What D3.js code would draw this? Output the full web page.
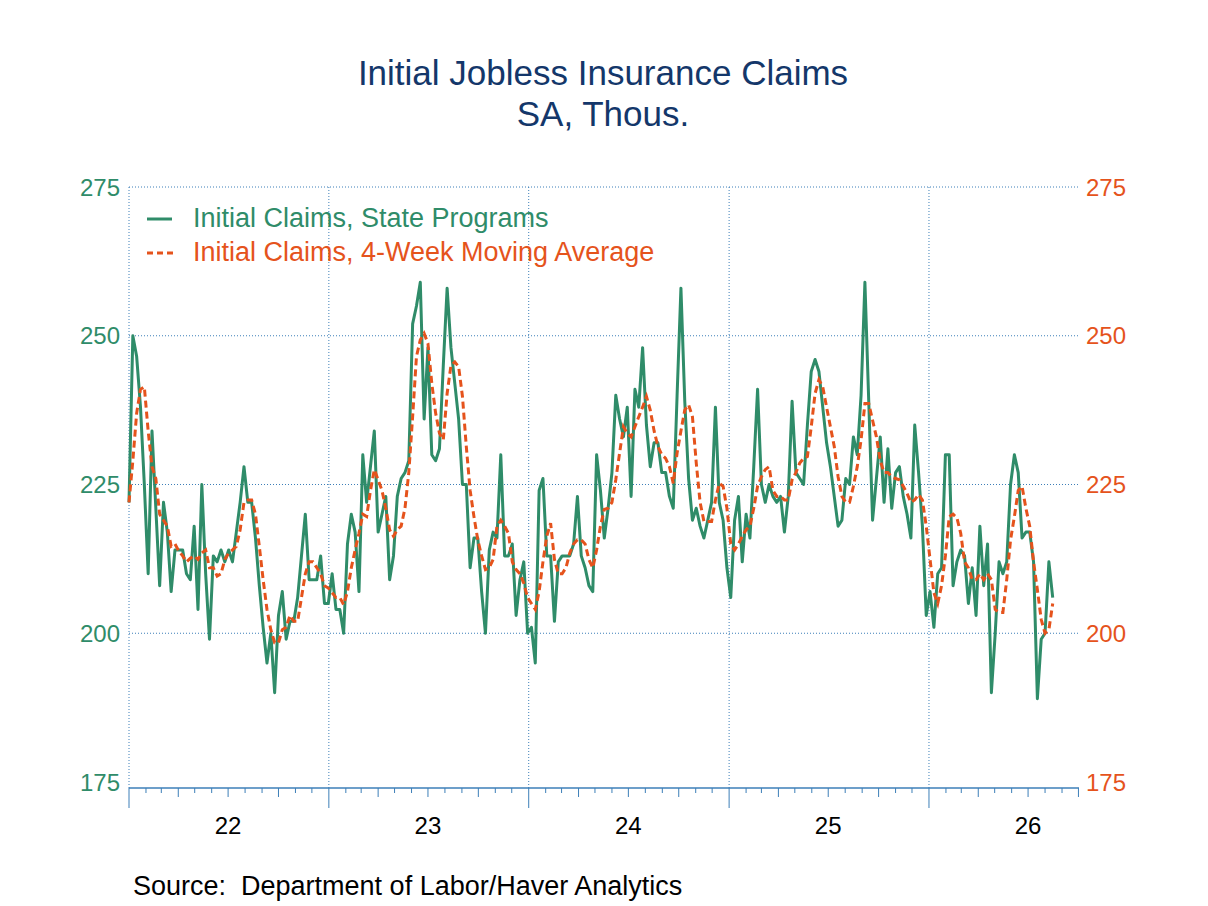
<!DOCTYPE html>
<html>
<head>
<meta charset="utf-8">
<script src="https://cdn.jsdelivr.net/npm/d3@7"></script>
<style>
  body { margin: 0; background: #fff; }
  text { font-family: "Liberation Sans", Arial, sans-serif; white-space: pre; }
</style>
</head>
<body>
<svg id="chart" width="1208" height="906"></svg>
<script>
// weekly values, week ending Jan 1 2022 onward (thousands)
var claims = [
  222, 250, 246.5, 238, 225, 210, 234, 221, 208, 222,
  217, 207, 214, 214, 214, 210, 209, 218, 204, 225,
  210, 199, 213, 212, 214, 212, 214, 212, 217, 222,
  228, 222, 222, 216, 208, 201, 195, 200, 190, 203,
  207, 199, 202, 202, 206, 213, 220, 209, 209, 209,
  213, 205, 205, 210, 204, 204, 200, 215, 220, 217,
  207, 230, 222, 228, 234, 217, 220, 223, 209, 213,
  223, 226, 227, 229, 252, 255, 259, 236, 248, 230,
  229, 231, 245, 258, 248, 242, 236, 225, 225, 211,
  216, 216, 207, 200, 214, 217, 216, 230, 213, 213,
  215, 203, 209, 212, 200, 201, 195, 224, 226, 213,
  213, 202, 212, 213, 213, 213, 215, 223, 213, 211,
  208, 207, 230, 224, 216, 221, 227, 240, 236, 233,
  238, 223, 241, 238, 248, 235, 228, 232, 232, 227,
  227, 223, 221, 240, 258, 239, 226, 219, 221, 218,
  216, 219, 222, 238, 222, 219, 211, 206, 219, 223,
  212, 220, 216, 228, 241, 225, 222, 225, 223, 222,
  223, 217, 223, 239, 227, 226, 225, 235, 244, 246,
  244, 238, 232, 228, 223, 218, 219, 226, 225, 233,
  230, 240, 259, 239, 219, 226, 233, 222, 231, 221,
  227, 228, 223, 220, 216, 235, 227, 218, 203, 207,
  201, 210, 211, 230, 230, 208, 212, 214, 213, 205,
  211, 203, 218, 208, 215, 190, 200, 212, 210, 212,
  225, 230, 227, 216, 217, 217, 212, 189, 199, 200,
  212, 206
];

var movingAvg = [
  222, 229, 237, 241, 241.4, 234, 228, 226, 220, 219,
  218, 214.6, 215, 213.8, 213, 212, 212.6, 213, 212.4, 213.5,
  214, 211, 211, 209.6, 210, 212.4, 213.5, 214, 214.6, 217.4,
  222, 222.4, 222.4, 220, 214.6, 209, 204, 200.6, 198.4, 198.4,
  200.6, 201, 203, 202, 202, 206, 210, 212, 212, 211,
  210, 208, 207.6, 206.8, 206, 206, 204.8, 207, 211, 214,
  216.8, 220, 219.6, 224, 227.5, 225.8, 224, 221, 217.4, 216.3,
  217.4, 218, 221, 227, 236.4, 246.5, 249.3, 250.4, 248.7, 242,
  237, 233.6, 232.5, 240.3, 245, 245.6, 244.8, 239.8, 231.4, 224,
  219.6, 215.7, 213, 210.7, 211, 212.4, 218, 219, 218, 216.8,
  212, 210.7, 210, 208.4, 206, 205, 204, 207, 212, 216.3,
  218.5, 212.4, 210, 210, 211, 213.5, 215, 215.7, 215.7, 215,
  212.4, 211, 214, 218, 220.8, 221, 222, 225.8, 230.3, 234.7,
  233.6, 233, 234.7, 236.4, 238, 239.8, 237.5, 234, 231.4, 230,
  229.4, 228, 225.2, 230.3, 234, 237.5, 238.4, 236.4, 228.6, 222,
  218.8, 218.8, 218.8, 222.4, 225.2, 224.7, 221, 215, 214, 215,
  216.3, 217.4, 218, 221, 224.7, 226.3, 227.5, 228, 224, 223,
  223, 222.4, 222.4, 225.8, 227, 228.6, 229.4, 229.7, 234.7, 240.3,
  242.6, 241.4, 238, 234.7, 231.4, 226.3, 223, 222, 222, 224.7,
  228, 232.5, 238.6, 238.6, 235.8, 233, 229, 227, 227, 226.3,
  226, 225.8, 224.7, 223.5, 222, 222.4, 223.3, 222.4, 218, 212.4,
  206.8, 205, 208, 213, 219.6, 220, 219.4, 216.8, 212, 211,
  209, 209, 210, 209, 210, 209, 204, 203.5, 203.5, 209,
  215.7, 219.6, 224, 224.7, 221, 218, 212, 207.3, 202.3, 200,
  200.6, 205
];

var yTicks = [175, 200, 225, 250, 275];
var yearLabels = ["22", "23", "24", "25", "26"];
var firstWeek = new Date(2022, 0, 1);

var green = "#2f8c69", orange = "#e5531c", gridBlue = "#3d7fb8", navy = "#14376a";

var svg = d3.select("#chart");
var plotLeft = 129, plotRight = 1079, plotTop = 187, plotBottom = 782, axisY = 788;

var x = d3.scaleTime()
  .domain([new Date(2022, 0, 1), new Date(2026, 9, 2)])
  .range([plotLeft, plotRight]);
var y = d3.scaleLinear().domain([175, 275]).range([plotBottom, plotTop]);

var dates = claims.map(function (d, i) { return d3.timeDay.offset(firstWeek, 7 * i); });

// title
svg.append("text").attr("x", 603).attr("y", 85).attr("text-anchor", "middle")
  .attr("font-size", 35).attr("fill", navy).text("Initial Jobless Insurance Claims");
svg.append("text").attr("x", 603).attr("y", 126).attr("text-anchor", "middle")
  .attr("font-size", 35).attr("fill", navy).text("SA, Thous.");

// horizontal grid
svg.append("g").selectAll("line")
  .data(yTicks.slice(1))
  .enter().append("line")
  .attr("x1", plotLeft).attr("x2", plotRight)
  .attr("y1", function (d) { return y(d); }).attr("y2", function (d) { return y(d); })
  .attr("stroke", gridBlue).attr("stroke-width", 1).attr("stroke-dasharray", "1,2");

// vertical grid at year boundaries
var years = d3.timeYear.range(new Date(2022, 0, 1), new Date(2026, 1, 1));
svg.append("g").selectAll("line")
  .data(years)
  .enter().append("line")
  .attr("x1", function (d) { return x(d); }).attr("x2", function (d) { return x(d); })
  .attr("y1", plotTop).attr("y2", axisY)
  .attr("stroke", gridBlue).attr("stroke-width", 1).attr("stroke-dasharray", "1,2");

// y labels
svg.append("g").selectAll("text")
  .data(yTicks).enter().append("text")
  .attr("x", 120).attr("y", function (d) { return y(d); }).attr("dy", "0.36em")
  .attr("text-anchor", "end").attr("font-size", 24).attr("fill", green)
  .text(function (d) { return d; });
svg.append("g").selectAll("text")
  .data(yTicks).enter().append("text")
  .attr("x", 1086).attr("y", function (d) { return y(d); }).attr("dy", "0.36em")
  .attr("text-anchor", "start").attr("font-size", 24).attr("fill", orange)
  .text(function (d) { return d; });

// bottom axis with month / quarter / year ticks
var axisG = svg.append("g");
axisG.append("line").attr("x1", plotLeft).attr("x2", plotRight)
  .attr("y1", axisY).attr("y2", axisY)
  .attr("stroke", gridBlue).attr("stroke-width", 1.5);
var months = d3.timeMonth.range(new Date(2022, 0, 1), new Date(2026, 9, 2));
axisG.selectAll(".tick")
  .data(months).enter().append("line")
  .attr("x1", function (d) { return x(d); }).attr("x2", function (d) { return x(d); })
  .attr("y1", axisY)
  .attr("y2", function (d) {
    if (d.getMonth() === 0) return axisY + 20;
    if (d.getMonth() % 3 === 0) return axisY + 9;
    return axisY + 5;
  })
  .attr("stroke", gridBlue).attr("stroke-width", 1);
axisG.selectAll(".ylab")
  .data(yearLabels).enter().append("text")
  .attr("x", function (d) { return x(new Date(2000 + (+d), 6, 1)); })
  .attr("y", 834).attr("text-anchor", "middle")
  .attr("font-size", 24).attr("fill", "#000")
  .text(function (d) { return d; });

// lines
var line = d3.line()
  .x(function (d, i) { return x(dates[i]); })
  .y(function (d) { return y(d); });

svg.append("path").datum(claims)
  .attr("d", line).attr("fill", "none")
  .attr("stroke", green).attr("stroke-width", 3).attr("stroke-linejoin", "round");

svg.append("path").datum(movingAvg)
  .attr("d", line).attr("fill", "none")
  .attr("stroke", orange).attr("stroke-width", 3)
  .attr("stroke-dasharray", "7,4");

// legend
var lg = svg.append("g");
lg.append("line").attr("x1", 147).attr("x2", 172).attr("y1", 219).attr("y2", 219)
  .attr("stroke", green).attr("stroke-width", 3);
lg.append("text").attr("x", 193).attr("y", 227).attr("font-size", 27).attr("fill", green)
  .text("Initial Claims, State Programs");
lg.append("line").attr("x1", 147).attr("x2", 174).attr("y1", 253).attr("y2", 253)
  .attr("stroke", orange).attr("stroke-width", 3).attr("stroke-dasharray", "6,4");
lg.append("text").attr("x", 193).attr("y", 261).attr("font-size", 27).attr("fill", orange)
  .text("Initial Claims, 4-Week Moving Average");

// source
svg.append("text").attr("x", 133).attr("y", 895).attr("font-size", 27).attr("fill", "#000")
  .text("Source:  Department of Labor/Haver Analytics");
</script>
</body>
</html>
